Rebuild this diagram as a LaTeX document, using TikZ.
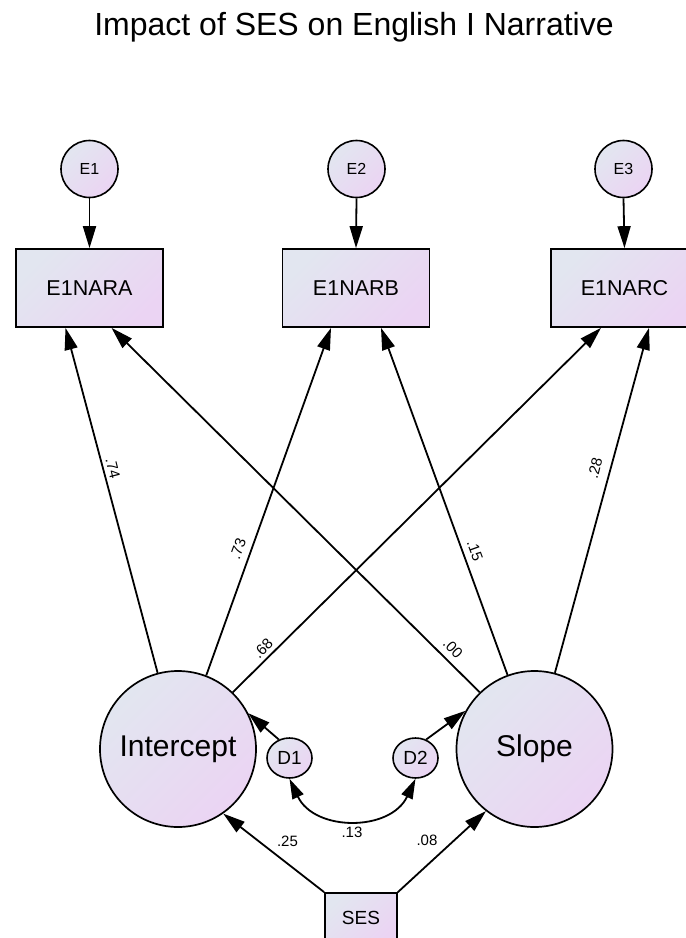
\documentclass[tikz,border=0pt]{standalone}
\usepackage{fontspec}
\setmainfont{Liberation Sans}
\usetikzlibrary{arrows.meta,shapes.geometric}
\definecolor{cA}{RGB}{226,230,240}
\definecolor{cB}{RGB}{235,212,243}
\begin{document}
\begin{tikzpicture}[x=1pt,y=-1pt,
  fillgrad/.style={top color=cA, bottom color=cB, shading angle=45},
  latent/.style={circle, draw=black, line width=1.7pt, fillgrad, inner sep=0pt, minimum size=156pt, font=\fontsize{30}{30}\selectfont},
  err/.style={circle, draw=black, line width=1.6pt, fillgrad, inner sep=0pt, minimum size=57pt, font=\fontsize{16}{16}\selectfont},
  dist/.style={ellipse, draw=black, line width=1.6pt, fillgrad, inner sep=0pt, minimum width=45pt, minimum height=40pt, font=\fontsize{19}{19}\selectfont},
  obs/.style={rectangle, draw=black, line width=1.7pt, fillgrad, inner sep=0pt, minimum width=147pt, minimum height=78pt, font=\fontsize{21.5}{21.5}\selectfont},
  path/.style={line width=1.8pt, -{Triangle[length=22pt,width=13pt]}},
  coef/.style={font=\fontsize{15}{15}\selectfont, inner sep=0pt},
]
\fill[white] (0,0) rectangle (686,938);
\useasboundingbox (0,0) rectangle (686,938);

\node[anchor=base, font=\fontsize{32}{32}\selectfont] (title) at (354,35) {Impact of SES on English I Narrative};

\node[err] (E1) at (89.5,169) {E1};
\node[err] (E2) at (356.5,169) {E2};
\node[err] (E3) at (623.5,169) {E3};
\node[obs] (A) at (89.5,288) {E1NARA};
\node[obs] (B) at (356,288) {E1NARB};
\node[obs] (C) at (624.5,288) {E1NARC};
\node[latent] (I) at (178,749) {Intercept};
\node[latent] (S) at (534.5,749) {Slope};
\node[dist] (D1) at (289.5,758) {D1};
\node[dist] (D2) at (415.5,758) {D2};
\node[obs, minimum width=72pt, minimum height=50pt, font=\fontsize{19}{19}\selectfont] (SES) at (361,918) {SES};

\draw[path] (E1.south) -- (A.north);
\draw[path] (E2.south) -- (B.north);
\draw[path] (E3.south) -- (C.north);

\draw[path] (I.105) -- ([xshift=-24pt]A.south);
\draw[path] (S.134) -- ([xshift=22pt]A.south);
\draw[path] (I.69) -- ([xshift=-25pt]B.south);
\draw[path] (S.110) -- ([xshift=25pt]B.south);
\draw[path] (I.46) -- ([xshift=-23.5pt]C.south);
\draw[path] (S.75) -- ([xshift=24.5pt]C.south);

\draw[path] (D1.120) -- (I.27);
\draw[path] (D2.60) -- (S.151);
\draw[path] (SES.north west) -- (I.-55);
\draw[path] (SES.north east) -- (S.232);
\draw[line width=1.8pt, {Triangle[length=20pt,width=12pt]}-{Triangle[length=20pt,width=12pt]}] (D1.south) .. controls +(25,53) and +(-25,53) .. (D2.south);

\node[coef, rotate=-76] (l74) at (113,468) {.74};
\node[coef, rotate=70] (l73) at (238,549) {.73};
\node[coef, rotate=-70] (l15) at (475,551) {.15};
\node[coef, rotate=46] (l68) at (263,648) {.68};
\node[coef, rotate=-46] (l00) at (453,648) {.00};
\node[coef, rotate=76] (l28) at (595,468) {.28};
\node[coef] (l25) at (287.5,841) {.25};
\node[coef] (l13) at (352,832) {.13};
\node[coef] (l08) at (427,840) {.08};
\end{tikzpicture}
\end{document}
